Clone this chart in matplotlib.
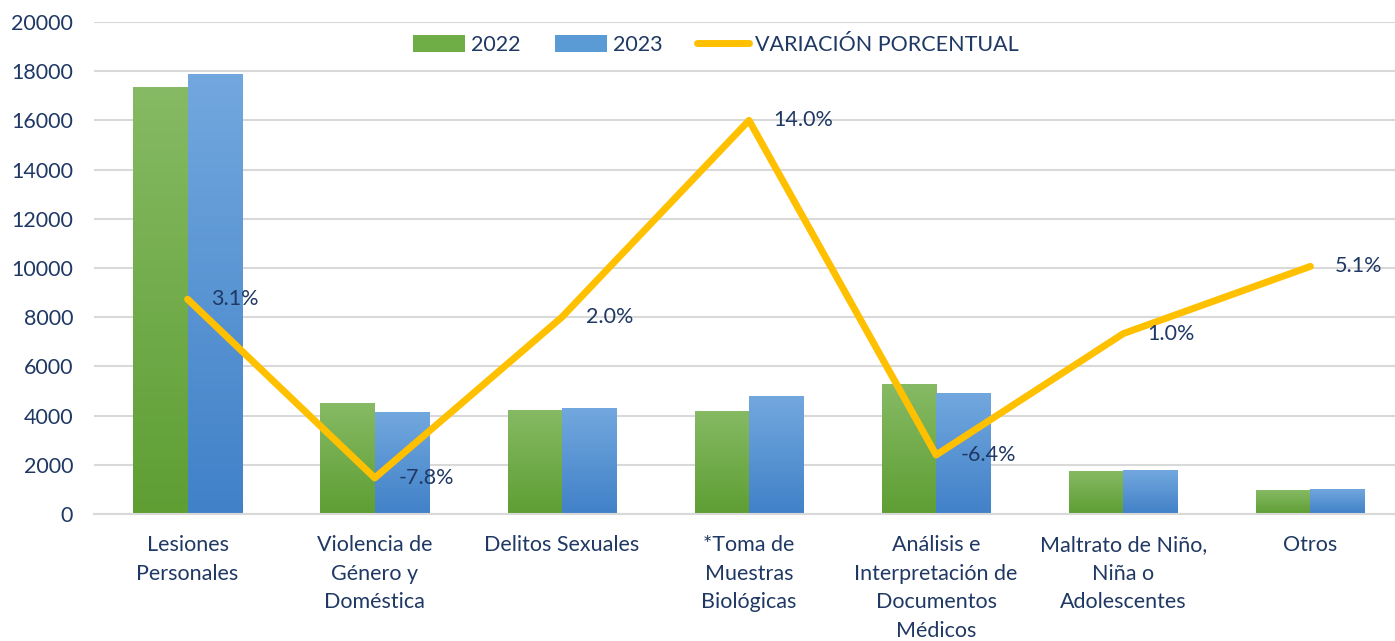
import numpy as np
import matplotlib.pyplot as plt
from matplotlib.colors import LinearSegmentedColormap
from matplotlib.lines import Line2D
from matplotlib.patches import Patch

plt.rcParams['font.family'] = ['Lato', 'DejaVu Sans']

categorias = ['Lesiones\nPersonales', 'Violencia de\nGénero y\nDoméstica', 'Delitos Sexuales',
              '*Toma de\nMuestras\nBiológicas', 'Análisis e\nInterpretación de\nDocumentos\nMédicos',
              'Maltrato de Niño,\nNiña o\nAdolescentes', 'Otros']
v2022 = [17350, 4500, 4230, 4190, 5270, 1765, 965]
v2023 = [17890, 4150, 4310, 4780, 4935, 1783, 1020]
variacion = [3.1, -7.8, 2.0, 14.0, -6.4, 1.0, 5.1]
etiquetas = ['3.1%', '-7.8%', '2.0%', '14.0%', '-6.4%', '1.0%', '5.1%']

navy = '#1F3864'
fs = 15.5
fig = plt.figure(figsize=(13.95, 6.41), dpi=100)
ax = fig.add_axes([94/1395, (641-514)/641, 1310/1395, 492/641])

x = np.arange(len(categorias))
w = 0.29
green = LinearSegmentedColormap.from_list('g', ['#5E9E33', '#86BA64'])
blue = LinearSegmentedColormap.from_list('b', ['#4181C8', '#72A8DE'])
grad = np.linspace(0, 1, 256).reshape(-1, 1)

def gradient_bars(xs, vals, cmap):
    bars = ax.bar(xs, vals, w, color='none', edgecolor='none', zorder=2)
    for b in bars:
        x0, y0 = b.get_x(), b.get_y()
        im = ax.imshow(grad, cmap=cmap, aspect='auto', origin='lower',
                       extent=[x0, x0 + b.get_width(), y0, y0 + b.get_height()], zorder=2)
        im.set_clip_path(b)
    return bars

gradient_bars(x - w/2, v2022, green)
gradient_bars(x + w/2, v2023, blue)

ax.set_xlim(-0.5, len(categorias) - 0.5)
ax.set_ylim(0, 20000)
ax.set_yticks(range(0, 20001, 2000))
ax.yaxis.grid(True, color='#D9D9D9', linewidth=1.5, zorder=0)
ax.set_axisbelow(True)
for s in ['top', 'right', 'left']:
    ax.spines[s].set_visible(False)
ax.spines['bottom'].set_color('#D9D9D9')
ax.spines['bottom'].set_linewidth(1.5)
ax.tick_params(axis='both', length=0, labelsize=fs, labelcolor=navy)
ax.tick_params(axis='y', pad=15)
ax.tick_params(axis='x', pad=15)
ax.set_xticks(x)
ax.set_xticklabels(categorias, linespacing=1.55, va='top')

ax2 = ax.twinx()
ax2.set_ylim(-10, 20)
ax2.set_axis_off()
ax2.plot(x, variacion, color='#FFC000', linewidth=5, solid_joinstyle='round',
         solid_capstyle='round', zorder=3)
for xi, yi, t in zip(x, variacion, etiquetas):
    ax2.annotate(t, (xi, yi), xytext=(24, 0), textcoords='offset pixels',
                 fontsize=fs, color=navy, va='center', ha='left')

handles = [Patch(facecolor='#6FAE47', label='2022'),
           Patch(facecolor='#5B9BD5', label='2023'),
           Line2D([0], [0], color='#FFC000', linewidth=5, solid_capstyle='round',
                  label='VARIACIÓN PORCENTUAL')]
leg = fig.legend(handles=handles, loc='center', bbox_to_anchor=(716/1395, 1 - 45/641), ncol=3,
                 frameon=False, fontsize=fs, handlelength=2.4, handleheight=0.8,
                 columnspacing=1.6, handletextpad=0.3)
for t in leg.get_texts():
    t.set_color(navy)

fig.savefig('out.png', dpi=100)
